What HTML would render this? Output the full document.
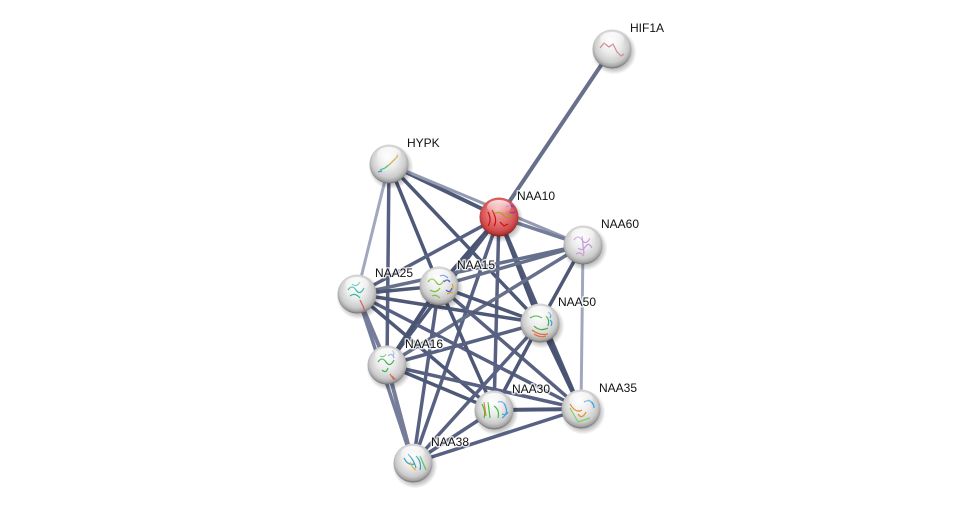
<!DOCTYPE html>
<html><head><meta charset="utf-8"><style>
html,body{margin:0;padding:0;background:#fff;}
svg{display:block;}
text{font-family:"Liberation Sans",Arial,sans-serif;font-size:12px;fill:#111;paint-order:stroke;stroke:rgba(255,255,255,0.75);stroke-width:3px;stroke-linejoin:round;}
</style></head><body>
<svg width="976" height="509" viewBox="0 0 976 509" xmlns="http://www.w3.org/2000/svg">
<defs>
<radialGradient id="gw" cx="50%" cy="45%" r="55%" fx="45%" fy="30%">
<stop offset="0" stop-color="#ffffff"/>
<stop offset="0.45" stop-color="#ececec"/>
<stop offset="0.78" stop-color="#cccccc"/>
<stop offset="0.92" stop-color="#a6a6a6"/>
<stop offset="1" stop-color="#6d6d6d"/>
</radialGradient>
<radialGradient id="gr" cx="50%" cy="45%" r="55%" fx="45%" fy="30%">
<stop offset="0" stop-color="#f7b0b0"/>
<stop offset="0.45" stop-color="#e77a7a"/>
<stop offset="0.8" stop-color="#d24e4e"/>
<stop offset="0.93" stop-color="#b33333"/>
<stop offset="1" stop-color="#7a1c1c"/>
</radialGradient>
<linearGradient id="hl" x1="0" y1="0" x2="0" y2="1">
<stop offset="0" stop-color="#fff" stop-opacity="0.95"/>
<stop offset="1" stop-color="#fff" stop-opacity="0"/>
</linearGradient>
<radialGradient id="sh" cx="50%" cy="50%" r="50%">
<stop offset="0.6" stop-color="#000" stop-opacity="0.4"/>
<stop offset="1" stop-color="#000" stop-opacity="0"/>
</radialGradient>
</defs>

<g stroke-linecap="butt" fill="none" opacity="0.92">
<line x1="612" y1="49" x2="499" y2="217" stroke="#5a6482" stroke-width="4"/>
<line x1="389" y1="164" x2="499" y2="217" stroke="#3f4a6c" stroke-width="4"/>
<line x1="389" y1="164" x2="583" y2="245" stroke="#8a92ac" stroke-width="3"/>
<line x1="389" y1="164" x2="357" y2="294" stroke="#9aa1b9" stroke-width="3"/>
<line x1="389" y1="164" x2="387" y2="365" stroke="#4a5477" stroke-width="3.5"/>
<line x1="389" y1="164" x2="439" y2="286" stroke="#3f4a6c" stroke-width="3.5"/>
<line x1="389" y1="164" x2="540" y2="323" stroke="#3f4a6c" stroke-width="3.5"/>
<line x1="499" y1="217" x2="583" y2="245" stroke="#6a7392" stroke-width="3.5"/>
<line x1="499" y1="217" x2="357" y2="294" stroke="#4a5477" stroke-width="3.5"/>
<line x1="499" y1="217" x2="439" y2="286" stroke="#3a4567" stroke-width="4"/>
<line x1="499" y1="217" x2="387" y2="365" stroke="#3f4a6c" stroke-width="3.5"/>
<line x1="499" y1="217" x2="540" y2="323" stroke="#3a4567" stroke-width="4"/>
<line x1="499" y1="217" x2="494" y2="410" stroke="#4a5477" stroke-width="3.5"/>
<line x1="499" y1="217" x2="581" y2="409" stroke="#3f4a6c" stroke-width="3.5"/>
<line x1="499" y1="217" x2="413" y2="463" stroke="#4a5477" stroke-width="3.5"/>
<line x1="583" y1="245" x2="357" y2="294" stroke="#5a6482" stroke-width="3.5"/>
<line x1="583" y1="245" x2="439" y2="286" stroke="#5a6482" stroke-width="3.5"/>
<line x1="583" y1="245" x2="540" y2="323" stroke="#3f4a6c" stroke-width="3.5"/>
<line x1="583" y1="245" x2="581" y2="409" stroke="#9aa1b9" stroke-width="3"/>
<line x1="583" y1="245" x2="387" y2="365" stroke="#5a6482" stroke-width="3.5"/>
<line x1="357" y1="294" x2="439" y2="286" stroke="#3f4a6c" stroke-width="3.5"/>
<line x1="357" y1="294" x2="540" y2="323" stroke="#3f4a6c" stroke-width="3.5"/>
<line x1="357" y1="294" x2="387" y2="365" stroke="#6a7392" stroke-width="4"/>
<line x1="357" y1="294" x2="494" y2="410" stroke="#3f4a6c" stroke-width="3.5"/>
<line x1="357" y1="294" x2="581" y2="409" stroke="#4a5477" stroke-width="3.5"/>
<line x1="357" y1="294" x2="413" y2="463" stroke="#6a7392" stroke-width="3.5"/>
<line x1="439" y1="286" x2="387" y2="365" stroke="#3a4567" stroke-width="4"/>
<line x1="439" y1="286" x2="540" y2="323" stroke="#3f4a6c" stroke-width="3.5"/>
<line x1="439" y1="286" x2="494" y2="410" stroke="#3f4a6c" stroke-width="3.5"/>
<line x1="439" y1="286" x2="581" y2="409" stroke="#4a5477" stroke-width="3.5"/>
<line x1="439" y1="286" x2="413" y2="463" stroke="#4a5477" stroke-width="3.5"/>
<line x1="540" y1="323" x2="387" y2="365" stroke="#4a5477" stroke-width="3.5"/>
<line x1="540" y1="323" x2="494" y2="410" stroke="#3f4a6c" stroke-width="3.5"/>
<line x1="540" y1="323" x2="581" y2="409" stroke="#3a4567" stroke-width="4.5"/>
<line x1="540" y1="323" x2="413" y2="463" stroke="#4a5477" stroke-width="3.5"/>
<line x1="387" y1="365" x2="494" y2="410" stroke="#3f4a6c" stroke-width="3.5"/>
<line x1="387" y1="365" x2="581" y2="409" stroke="#4a5477" stroke-width="3.5"/>
<line x1="387" y1="365" x2="413" y2="463" stroke="#6a7392" stroke-width="4"/>
<line x1="494" y1="410" x2="581" y2="409" stroke="#3f4a6c" stroke-width="4"/>
<line x1="494" y1="410" x2="413" y2="463" stroke="#4a5477" stroke-width="3.5"/>
<line x1="581" y1="409" x2="413" y2="463" stroke="#4a5477" stroke-width="3.5"/>
</g>

<g id="nodes">
<g fill="url(#sh)">
<circle cx="614" cy="52" r="22.5"/>
<circle cx="391" cy="167" r="22.5"/>
<circle cx="501" cy="220" r="22.5"/>
<circle cx="585" cy="248" r="22.5"/>
<circle cx="359" cy="297" r="22.5"/>
<circle cx="441" cy="289" r="22.5"/>
<circle cx="542" cy="326" r="22.5"/>
<circle cx="389" cy="368" r="22.5"/>
<circle cx="496" cy="413" r="22.5"/>
<circle cx="583" cy="412" r="22.5"/>
<circle cx="415" cy="466" r="22.5"/>
</g>
<g>
<circle cx="612" cy="49" r="19.5" fill="url(#gw)"/>
<circle cx="389" cy="164" r="19.5" fill="url(#gw)"/>
<circle cx="499" cy="217" r="19.5" fill="url(#gr)"/>
<circle cx="583" cy="245" r="19.5" fill="url(#gw)"/>
<circle cx="357" cy="294" r="19.5" fill="url(#gw)"/>
<circle cx="439" cy="286" r="19.5" fill="url(#gw)"/>
<circle cx="540" cy="323" r="19.5" fill="url(#gw)"/>
<circle cx="387" cy="365" r="19.5" fill="url(#gw)"/>
<circle cx="494" cy="410" r="19.5" fill="url(#gw)"/>
<circle cx="581" cy="409" r="19.5" fill="url(#gw)"/>
<circle cx="413" cy="463" r="19.5" fill="url(#gw)"/>
</g>
<g fill="none" stroke-width="1.2" stroke-linejoin="round">
<polyline points="600,48 604,43 609,47 613,44 617,52 621,56 624,54" stroke="#d08a90"/>
<polyline points="380,170 385,168 390,164 394,160 398,156" stroke="#3cc870"/>
<polyline points="388,166 392,162 396,158 398,154" stroke="#e0b040"/>
<path d="M378,172 l4,-1" stroke="#6080e0"/>
<path d="M488,212 q4,8 0,14 M492,210 q6,10 2,16 M500,222 l4,4 l4,-2" stroke="#c81010"/>
<path d="M494,214 q6,-4 10,2 q4,4 8,-2" stroke="#a0a020"/>
<path d="M506,207 q4,-3 8,0 M510,212 q3,2 6,-1" stroke="#8040c0"/>
<path d="M574,240 q4,-6 8,0 q4,6 8,-2 M578,248 q4,4 8,-2 q3,-4 6,2 M582,236 l2,18 M576,254 q4,-3 8,2" stroke="#c79ad8"/>
<path d="M348,290 q4,-6 8,0 q4,6 8,-2 M350,296 q5,-4 10,2 M352,284 q4,4 8,-2" stroke="#30b8a0"/>
<path d="M360,300 l3,6 l2,6" stroke="#d06060"/>
<path d="M428,282 q4,-6 8,0 q4,6 8,-2 M430,290 q6,4 10,-2 M432,296 q4,-2 8,2" stroke="#80c040"/>
<path d="M444,282 q3,-4 6,0 M446,290 q4,4 6,-2 M440,276 q4,-2 8,2" stroke="#4060d0"/>
<path d="M447,294 l6,-2 M452,284 q2,3 0,6" stroke="#e0a030"/>
<path d="M530,318 q6,-4 12,0 M534,326 q6,6 14,2 M546,316 q4,4 2,10" stroke="#40b040"/>
<path d="M532,330 q8,6 16,4 M534,334 q6,4 12,2" stroke="#e07030"/>
<path d="M548,312 q4,2 2,6 M550,320 q3,2 1,6" stroke="#40a0e0"/>
<path d="M378,362 q4,-6 8,0 q4,6 8,-2 M382,370 q4,4 6,-2 M380,356 q4,2 6,-2" stroke="#40b050"/>
<path d="M388,356 q4,-4 6,2 M392,350 q3,3 1,6" stroke="#6090e0"/>
<path d="M390,374 l4,6 M392,376 l4,4" stroke="#d07060"/>
<path d="M482,404 q4,8 2,14 M488,402 l2,16 M494,406 q6,4 4,12" stroke="#40c040"/>
<path d="M498,402 q6,-2 8,6 q2,6 -4,10 M502,414 q4,2 6,-2" stroke="#40a0d8"/>
<path d="M484,402 l2,14" stroke="#e08030"/>
<path d="M570,404 q6,10 12,6 M578,414 q4,6 8,-2" stroke="#e09030"/>
<path d="M584,402 q6,-4 10,4 M588,400 q6,2 6,8" stroke="#40a0e0"/>
<path d="M570,408 l8,14 l12,-4" stroke="#80d060"/>
<path d="M404,458 q4,8 10,6 M408,454 q6,6 8,14 M416,456 q6,6 4,14" stroke="#30a0c0"/>
<path d="M410,462 q2,6 6,8" stroke="#e0b040"/>
<path d="M420,456 l6,14" stroke="#60c060"/>
</g>
<g fill="url(#hl)" opacity="0.85">
<ellipse cx="612" cy="39" rx="12" ry="7"/>
<ellipse cx="389" cy="154" rx="12" ry="7"/>
<ellipse cx="499" cy="207" rx="12" ry="7"/>
<ellipse cx="583" cy="235" rx="12" ry="7"/>
<ellipse cx="357" cy="284" rx="12" ry="7"/>
<ellipse cx="439" cy="276" rx="12" ry="7"/>
<ellipse cx="540" cy="313" rx="12" ry="7"/>
<ellipse cx="387" cy="355" rx="12" ry="7"/>
<ellipse cx="494" cy="400" rx="12" ry="7"/>
<ellipse cx="581" cy="399" rx="12" ry="7"/>
<ellipse cx="413" cy="453" rx="12" ry="7"/>
</g>
</g>

<g>
<text x="630" y="32">HIF1A</text>
<text x="407" y="147">HYPK</text>
<text x="517" y="200">NAA10</text>
<text x="601" y="228">NAA60</text>
<text x="375" y="277">NAA25</text>
<text x="457" y="269">NAA15</text>
<text x="558" y="306">NAA50</text>
<text x="405" y="348">NAA16</text>
<text x="512" y="393">NAA30</text>
<text x="599" y="392">NAA35</text>
<text x="431" y="446">NAA38</text>
</g>
</svg>
</body></html>
